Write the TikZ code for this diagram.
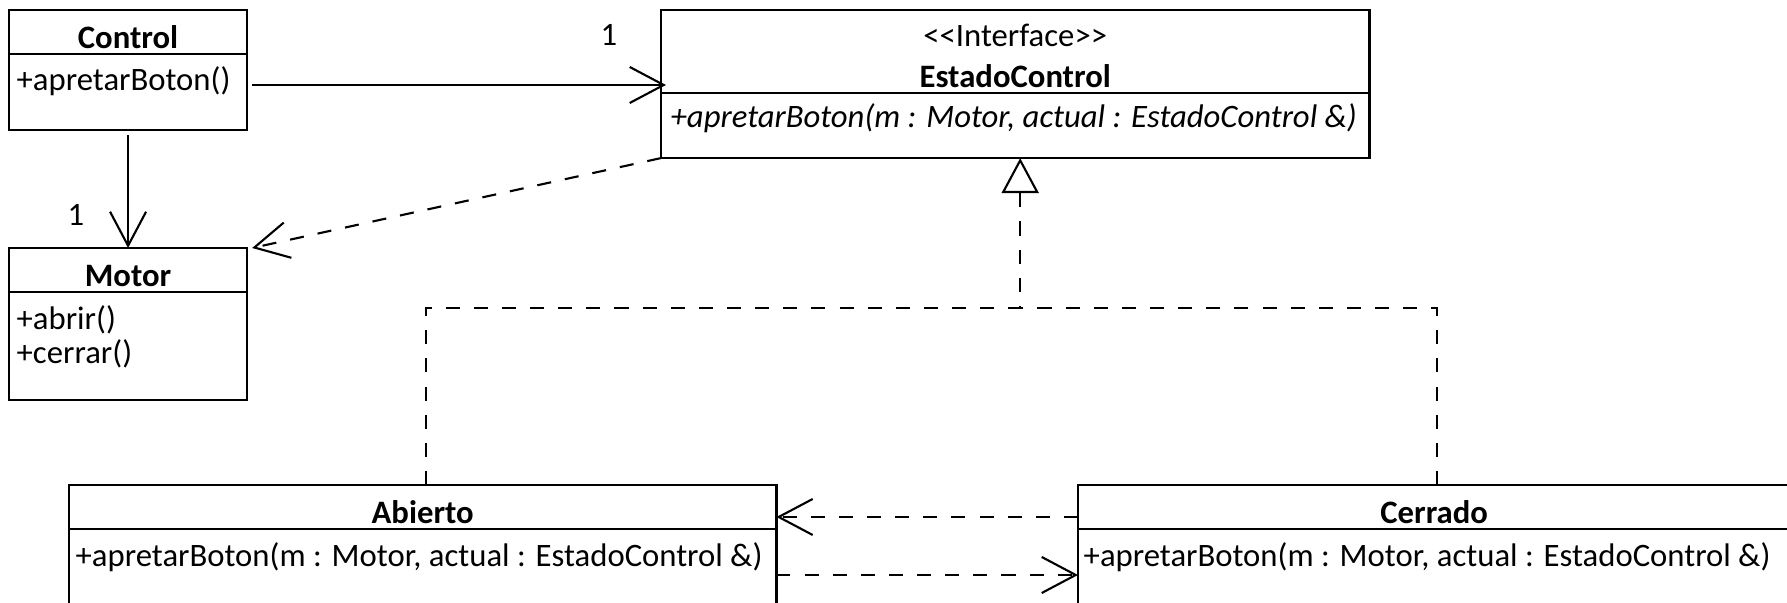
\documentclass[tikz,border=0pt]{standalone}
\usepackage{fontspec}
\setmainfont{Carlito}
\usetikzlibrary{arrows.meta}

\tikzset{
  cab/.style={draw, line width=0.7pt, anchor=north west, inner sep=0pt, outer sep=0pt, font=\fontsize{9.3}{12}\selectfont\bfseries, text height=1.1em, text depth=0.15em},
  cuerpo/.style={draw, line width=0.7pt, anchor=north west, inner sep=0pt, outer sep=0pt},
  metodo/.style={anchor=base west, inner sep=0pt, font=\fontsize{9.3}{11}\selectfont},
  mult/.style={inner sep=0pt, font=\fontsize{9.3}{11}\selectfont},
  asoc/.style={line width=0.6pt, -{Straight Barb[length=0.34cm, width=0.36cm]}},
  discont/.style={line width=0.6pt, dash pattern=on 4pt off 4pt},
  dep/.style={discont, -{Straight Barb[length=0.34cm, width=0.36cm]}},
  realiza/.style={discont, -{Triangle[open, length=0.35cm, width=0.37cm]}},
}

\begin{document}
\begin{tikzpicture}[x=0.01cm, y=-0.01cm]
\useasboundingbox (0,0) rectangle (1787,603);
\clip (0,0) rectangle (1787,603);

% Control
\node[cab, minimum width=2.38cm, minimum height=0.42cm] (chead) at (9,10) {Control};
\node[cuerpo, minimum width=2.38cm, minimum height=0.76cm] (cbody) at (chead.south west) {};
\node[metodo] (cmet) at ([shift={(7,37)}]cbody.north west) {+apretarBoton()};

% Motor
\node[cab, minimum width=2.38cm, minimum height=0.41cm] (mhead) at (9,248) {Motor};
\node[cuerpo, minimum width=2.38cm, minimum height=1.08cm] (mbody) at (mhead.south west) {};
\node[metodo] (mmet1) at ([shift={(7,38)}]mbody.north west) {+abrir()};
\node[metodo] (mmet2) at ([shift={(7,72)}]mbody.north west) {+cerrar()};

% EstadoControl
\node[cab, minimum width=7.08cm, minimum height=0.83cm, align=center, text height=, text depth=, font=\fontsize{9.3}{11.6}\selectfont] (ehead) at (661,10) {\rule{0pt}{0.95em}<\kern0pt<Interface>\kern0pt>\\\textbf{EstadoControl}};
\node[cuerpo, minimum width=7.08cm, minimum height=0.65cm] (ebody) at (ehead.south west) {};
\node[metodo, font=\fontsize{9.3}{11}\selectfont\itshape] (emet) at ([shift={(9,34)}]ebody.north west) {+apretarBoton(m : Motor, actual : EstadoControl \&)};

% Abierto
\node[cab, minimum width=7.07cm, minimum height=0.43cm] (ahead) at (69,485) {Abierto};
\node[cuerpo, minimum width=7.07cm, minimum height=0.92cm] (abody) at (ahead.south west) {};
\node[metodo] (amet) at ([shift={(6,38)}]abody.north west) {+apretarBoton(m : Motor, actual : EstadoControl \&)};

% Cerrado
\node[cab, minimum width=7.12cm, minimum height=0.43cm] (crhead) at (1078,485) {Cerrado};
\node[cuerpo, minimum width=7.12cm, minimum height=0.92cm] (crbody) at (crhead.south west) {};
\node[metodo] (crmet) at ([shift={(5,38)}]crbody.north west) {+apretarBoton(m : Motor, actual : EstadoControl \&)};

% asociaciones
\draw[asoc] ([shift={(5,-7)}]cbody.east) -- ([shift={(5,-7)}]cbody.east -| ehead.west);
\node[mult] (uno1) at (609,35) {1};
\draw[asoc] ([shift={(0,5)}]cbody.south) -- (mhead.north);
\node[mult] (uno2) at (76,215) {1};

% dependencias
\draw[dep] (ebody.south west) -- ([shift={(5,0)}]mhead.north east);
\draw[dep] ([shift={(0,10)}]crhead.west) -- ([shift={(0,10)}]crhead.west -| ahead.east);
\draw[dep] (abody.east) -- (crbody.west);

% realizacion
\coordinate (ebase) at ([shift={(5,0)}]ebody.south);
\coordinate (junta) at (ebase |- 0,308);
\draw[realiza] ([shift={(3,0)}]ahead.north) |- (junta) -- (ebase);
\draw[discont] ([shift={(3,0)}]crhead.north) |- (junta);

\end{tikzpicture}
\end{document}
